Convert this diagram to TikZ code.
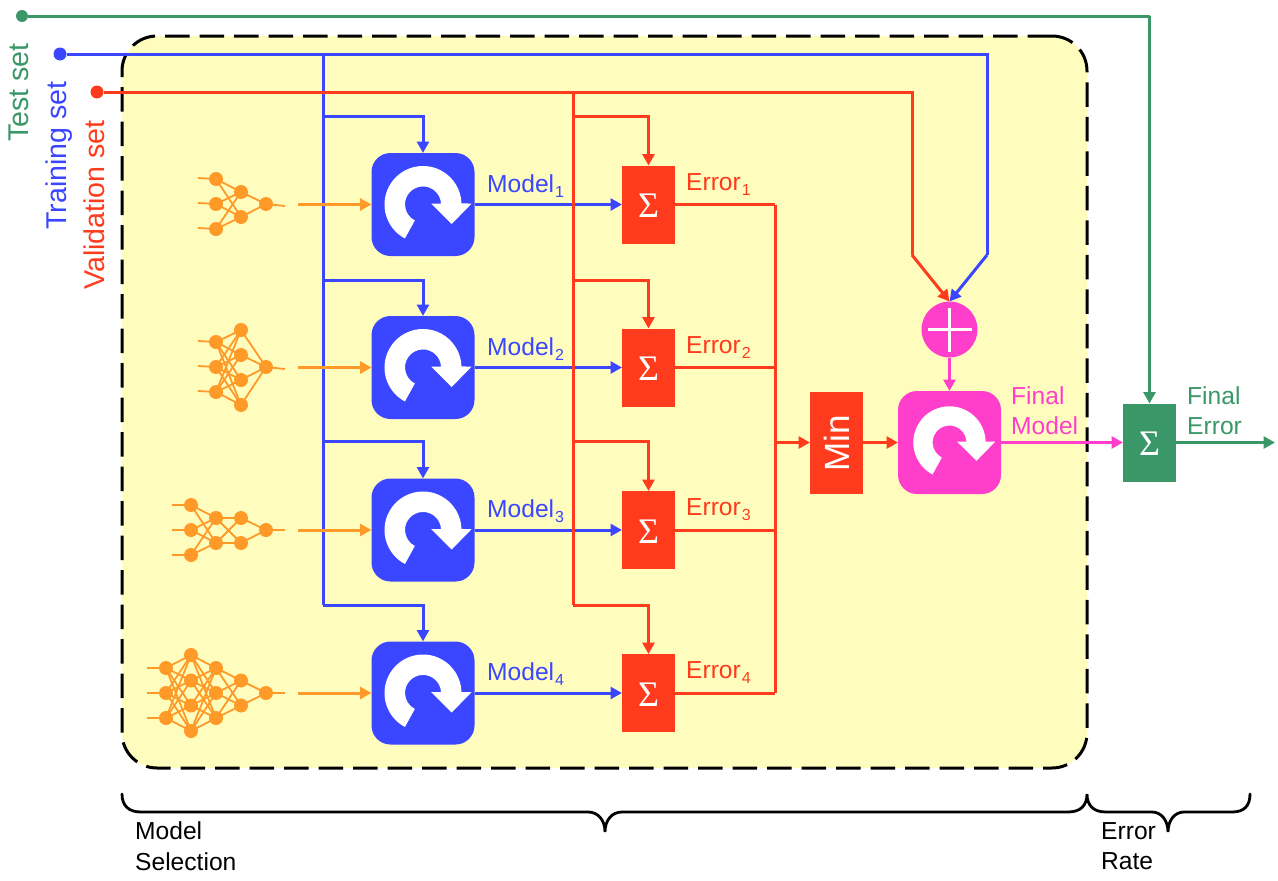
\documentclass[tikz,border=0pt]{standalone}
\usepackage{fontspec}
\setmainfont{Liberation Sans}
\newfontfamily\sigfont{Liberation Serif}
\usetikzlibrary{arrows.meta}
\definecolor{myblue}{HTML}{3A46FF}
\definecolor{myred}{HTML}{FF3B1D}
\definecolor{mygreen}{HTML}{3A9868}
\definecolor{mypink}{HTML}{FF3FCC}
\definecolor{myorange}{HTML}{FF9A28}
\definecolor{myyellow}{HTML}{FFFDBE}
\newcommand{\fs}[1]{\fontsize{#1}{#1}\selectfont}
\newcommand{\sbs}[1]{\raisebox{-5pt}{\kern1pt\fs{16}#1}}
\tikzset{
  conn/.style={line width=3pt,-{Triangle[length=11.5pt,width=12pt]}},
  plainconn/.style={line width=3pt},
  nnode/.style={circle,fill=myorange,inner sep=0pt,minimum size=14pt,outer sep=0pt},
  nnline/.style={draw=myorange,line width=1.8pt},
  modelbox/.style={rounded corners=19pt,fill=myblue,minimum width=103pt,minimum height=103pt,inner sep=0pt,outer sep=0pt},
  finalbox/.style={rounded corners=19pt,fill=mypink,minimum width=103pt,minimum height=103pt,inner sep=0pt,outer sep=0pt},
  sumbox/.style={fill=myred,minimum width=53pt,minimum height=78pt,inner sep=0pt,outer sep=0pt,text=white,font=\sigfont\fs{36}},
  dot/.style={circle,inner sep=0pt,minimum size=12pt,outer sep=0pt},
  lbl/.style={anchor=base west,inner sep=0pt,font=\fs{24.6}},
  sidelbl/.style={anchor=base west,inner sep=0pt,rotate=90,font=\fs{28.6}},
  bracel/.style={draw=black,line width=2.8pt,line cap=round},
  refresh/.pic={
    \fill[white,x=1pt,y=1pt] (242:38.5) arc[start angle=242,end angle=1.5,radius=38.5pt]
      -- (48.7,1) -- (28.7,-19.5) -- (8,1) -- (18,1)
      arc[start angle=3,end angle=243,radius=18pt] -- cycle;
  }
}
\begin{document}
\begin{tikzpicture}[x=1pt,y=-1pt]
\useasboundingbox (0,0) rectangle (1278,881);
% panel
\node[draw=black,fill=myyellow,line width=3pt,rounded corners=35pt,dash pattern=on 24.5pt off 10pt,
  minimum width=965pt,minimum height=732pt,inner sep=0pt] (panel) at (604.5,402) {};
% process boxes
\foreach \i/\y in {1/204.5,2/367.5,3/530,4/693}{
  \node[modelbox] (m\i) at (423,\y) {};
  \pic at (423,\y) {refresh};
  \node[sumbox] (s\i) at (648.5,\y) {};
  \node[text=white,font=\sigfont\fs{36},inner sep=0pt] (sg\i) at (648.5,\y+1.5) {Σ};
}
\node[fill=myred,minimum width=53pt,minimum height=102pt,inner sep=0pt,outer sep=0pt] (minb) at (836.5,442.5) {};
\node[text=white,rotate=90,font=\fs{35},inner sep=0pt] (mint) at (836.5,443) {Min};
\node[finalbox] (fin) at (949.5,442.5) {};
\pic[scale=0.94] at (949.5,442.5) {refresh};
\node[circle,fill=mypink,minimum size=56pt,inner sep=0pt,outer sep=0pt] (plus) at (949.5,329.5) {};
\draw[white,line width=3pt] (plus.center)+(-22,0) -- +(22,0) (plus.center)+(0,-22) -- +(0,22);
\node[fill=mygreen,minimum width=53pt,minimum height=78pt,inner sep=0pt,outer sep=0pt] (gs) at (1149.5,442.5) {};
\node[text=white,font=\sigfont\fs{36},inner sep=0pt] (gsg) at (1149.5,444) {Σ};
% sources
\node[dot,fill=mygreen] (test) at (22,16) {};
\node[dot,fill=myblue,minimum size=13pt] (train) at (60,54) {};
\node[dot,fill=myred,minimum size=13pt] (valid) at (97,92) {};
% junctions
\coordinate (bt) at (323,54); \coordinate (bbot) at (323,605);
\coordinate (bc) at (987,54); \coordinate (bd) at (987,255);
\coordinate (rt) at (573,92); \coordinate (rbot) at (573,605);
\coordinate (rc) at (912,92); \coordinate (rd) at (912,255);
\coordinate (gc) at (1149.5,16);
\coordinate (et) at (775,204.5); \coordinate (eb) at (775,693); \coordinate (em) at (775,442.5);
\coordinate (gout) at (1275,442.5);
% blue
\draw[plainconn,myblue] (train) -- (bc) -- (bd);
\draw[conn,myblue] (bd) -- (plus.north);
\draw[plainconn,myblue] (bt) -- (bbot);
\foreach \i/\y in {1/116,2/280,3/441,4/605}{
  \coordinate (bb\i) at (323,\y);
  \draw[conn,myblue] (bb\i) -| (m\i.north);
}
\foreach \i in {1,...,4}{ \draw[conn,myblue] (m\i.east) -- (s\i.west); }
% neural nets
\foreach \n/\x/\y in {A1/216/179,A2/216/204,A3/216/229,A4/241/192,A5/241/217,A6/266/204,
  B1/216/342,B2/216/367,B3/216/392,B4/241/330,B5/241/355,B6/241/380,B7/241/405,B8/266/367,
  C1/191/505,C2/191/530,C3/191/555,C4/216/518,C5/216/543,C6/241/518,C7/241/543,C8/266/530,
  D1/166/668,D2/166/693,D3/166/718,D4/191/655,D5/191/680.5,D6/191/705.5,D7/191/731,
  D8/216/668,D9/216/693,D10/216/718,D11/241/680.5,D12/241/705.5,D13/266/693}{
  \node[nnode] (\n) at (\x,\y) {};
}
\foreach \a in {A1,A2,A3}{\foreach \b in {A4,A5}{\draw[nnline] (\a.center) -- (\b.center);}}
\foreach \a in {A4,A5}{\draw[nnline] (\a.center) -- (A6.center);}
\foreach \a in {B1,B2,B3}{\foreach \b in {B4,B5,B6,B7}{\draw[nnline] (\a.center) -- (\b.center);}}
\foreach \a in {B4,B5,B6,B7}{\draw[nnline] (\a.center) -- (B8.center);}
\foreach \a in {C1,C2,C3}{\foreach \b in {C4,C5}{\draw[nnline] (\a.center) -- (\b.center);}}
\foreach \a in {C4,C5}{\foreach \b in {C6,C7}{\draw[nnline] (\a.center) -- (\b.center);}}
\foreach \a in {C6,C7}{\draw[nnline] (\a.center) -- (C8.center);}
\foreach \a in {D1,D2,D3}{\foreach \b in {D4,D5,D6,D7}{\draw[nnline] (\a.center) -- (\b.center);}}
\foreach \a in {D4,D5,D6,D7}{\foreach \b in {D8,D9,D10}{\draw[nnline] (\a.center) -- (\b.center);}}
\foreach \a in {D8,D9,D10}{\foreach \b in {D11,D12}{\draw[nnline] (\a.center) -- (\b.center);}}
\foreach \a in {D11,D12}{\draw[nnline] (\a.center) -- (D13.center);}
% stubs
\foreach \n/\x/\y in {A1/198/178,A2/198/203,A3/198/228,A6/285/206,
  B1/198/341,B2/198/366,B3/198/391,B8/285/369,
  C1/172/505,C2/172/530,C3/172/555,C8/285/530,
  D1/147/668,D2/147/693,D3/147/718,D13/285/693}{
  \coordinate (st\n) at (\x,\y);
  \draw[nnline] (st\n) -- (\n.center);
}
% orange arrows
\foreach \i/\y in {1/204.5,2/367.5,3/530,4/693}{
  \coordinate (oa\i) at (298,\y);
  \draw[conn,myorange] (oa\i) -- (m\i.west);
}
% red
\draw[plainconn,myred] (valid) -- (rc) -- (rd);
\draw[conn,myred] (rd) -- (plus.north);
\draw[plainconn,myred] (rt) -- (rbot);
\foreach \i/\y in {1/116,2/280,3/441,4/605}{
  \coordinate (rb\i) at (573,\y);
  \draw[conn,myred] (rb\i) -| (s\i.north);
}
\foreach \i in {1,...,4}{
  \draw[plainconn,myred] (s\i.east) -- (s\i.east -| et);
}
\draw[plainconn,myred] (et) -- (eb);
\draw[conn,myred] (em) -- (minb.west);
\draw[conn,myred] (minb.east) -- (fin.west);
% pink
\draw[conn,mypink] (plus.south) -- (fin.north);
\draw[conn,mypink] (fin.east) -- (gs.west);
% green
\draw[plainconn,mygreen] (test) -- (gc);
\draw[conn,mygreen] (gc) -- (gs.north);
\draw[conn,mygreen] (gs.east) -- (gout);
% labels
\node[sidelbl,text=mygreen] (ltest) at (28,142) {Test set};
\node[sidelbl,text=myblue] (ltrain) at (66,230) {Training set};
\node[sidelbl,text=myred] (lvalid) at (104,290) {Validation set};
\foreach \i/\y in {1/192,2/355,3/517.5,4/680.5}{
  \node[lbl,text=myblue] (lm\i) at (487,\y) {Model\sbs{\i}};
  \node[lbl,text=myred] (le\i) at (686,\y-2) {Error\sbs{\i}};
}
\node[lbl,text=mypink] (lf1) at (1011,404) {Final};
\node[lbl,text=mypink] (lf2) at (1011,434) {Model};
\node[lbl,text=mygreen] (lg1) at (1187,404) {Final};
\node[lbl,text=mygreen] (lg2) at (1187,434) {Error};
\node[lbl] (ls1) at (135,839) {Model};
\node[lbl] (ls2) at (135,870) {Selection};
\node[lbl] (lr1) at (1101,839) {Error};
\node[lbl] (lr2) at (1101,869) {Rate};
% braces
\draw[bracel] (122,794) .. controls (122,806) and (129,812) .. (141,812) -- (588,812)
  .. controls (598,812) and (605,820) .. (605,832) .. controls (605,820) and (612,812) .. (622,812)
  -- (1068,812) .. controls (1080,812) and (1087,806) .. (1087,794)
  .. controls (1087,806) and (1094,812) .. (1106,812) -- (1152,812)
  .. controls (1161,812) and (1168,820) .. (1168,832) .. controls (1168,820) and (1175,812) .. (1184,812)
  -- (1232,812) .. controls (1244,812) and (1250,806) .. (1250,794);
\end{tikzpicture}
\end{document}
